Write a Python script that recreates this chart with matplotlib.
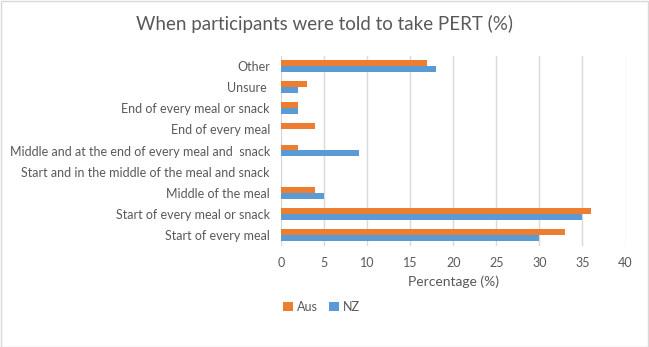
import matplotlib.pyplot as plt
import numpy as np
from matplotlib.patches import Rectangle

categories = ["Start of every meal", "Start of every meal or snack", "Middle of the meal",
              "Start and in the middle of the meal and snack",
              "Middle and at the end of every meal and  snack", "End of every meal",
              "End of every meal or snack", "Unsure ", "Other"]
aus = [33, 36, 4, 0, 2, 4, 2, 3, 17]
nz = [30, 35, 5, 0, 9, 0, 2, 2, 18]
xticks = [0, 5, 10, 15, 20, 25, 30, 35, 40]

plt.rcParams['font.family'] = ['Lato', 'DejaVu Sans']
txt = '#595959'

fig = plt.figure(figsize=(6.49, 3.47), dpi=100)
W, H = 649, 347
ax = fig.add_axes([281 / W, 1 - 245.5 / H, (625.5 - 281) / W, (245.5 - 55.5) / H])

y = np.arange(len(categories))
h = 0.28
ax.barh(y + h / 2, aus, height=h, color='#ED7D31', label='Aus')
ax.barh(y - h / 2, nz, height=h, color='#5B9BD5', label='NZ')

ax.set_xlim(0, 40)
ax.set_ylim(-0.5, len(categories) - 0.5)
ax.set_xticks(xticks)
ax.set_xticklabels([str(t) for t in xticks])
ax.set_yticks(y)
ax.set_yticklabels(categories)
ax.tick_params(axis='both', length=0, labelsize=9, colors=txt)
ax.tick_params(axis='x', pad=8)
ax.tick_params(axis='y', pad=8)
ax.grid(axis='x', color='#d9d9d9', linewidth=1)
ax.set_axisbelow(True)
for s in ax.spines.values():
    s.set_visible(False)
ax.set_xlabel('Percentage (%)', fontsize=10, color=txt, labelpad=5)

fig.text(0.5, 1 - 24 / H, 'When participants were told to take PERT (%)', ha='center', va='center',
         fontsize=13.5, color=txt)

leg = fig.legend(loc='center left', bbox_to_anchor=(272 / W, 1 - 307 / H), ncol=2, frameon=False,
                 fontsize=9, handlelength=0.75, handleheight=0.75, handletextpad=0.35, columnspacing=0.9,
                 labelcolor=txt)

fig.patches.append(Rectangle((0.5 / W, 0.5 / H), 1 - 1.5 / W, 1 - 1.5 / H, transform=fig.transFigure,
                             fill=False, edgecolor='#d9d9d9', linewidth=1))

fig.savefig('out.png', dpi=100, facecolor='white')
